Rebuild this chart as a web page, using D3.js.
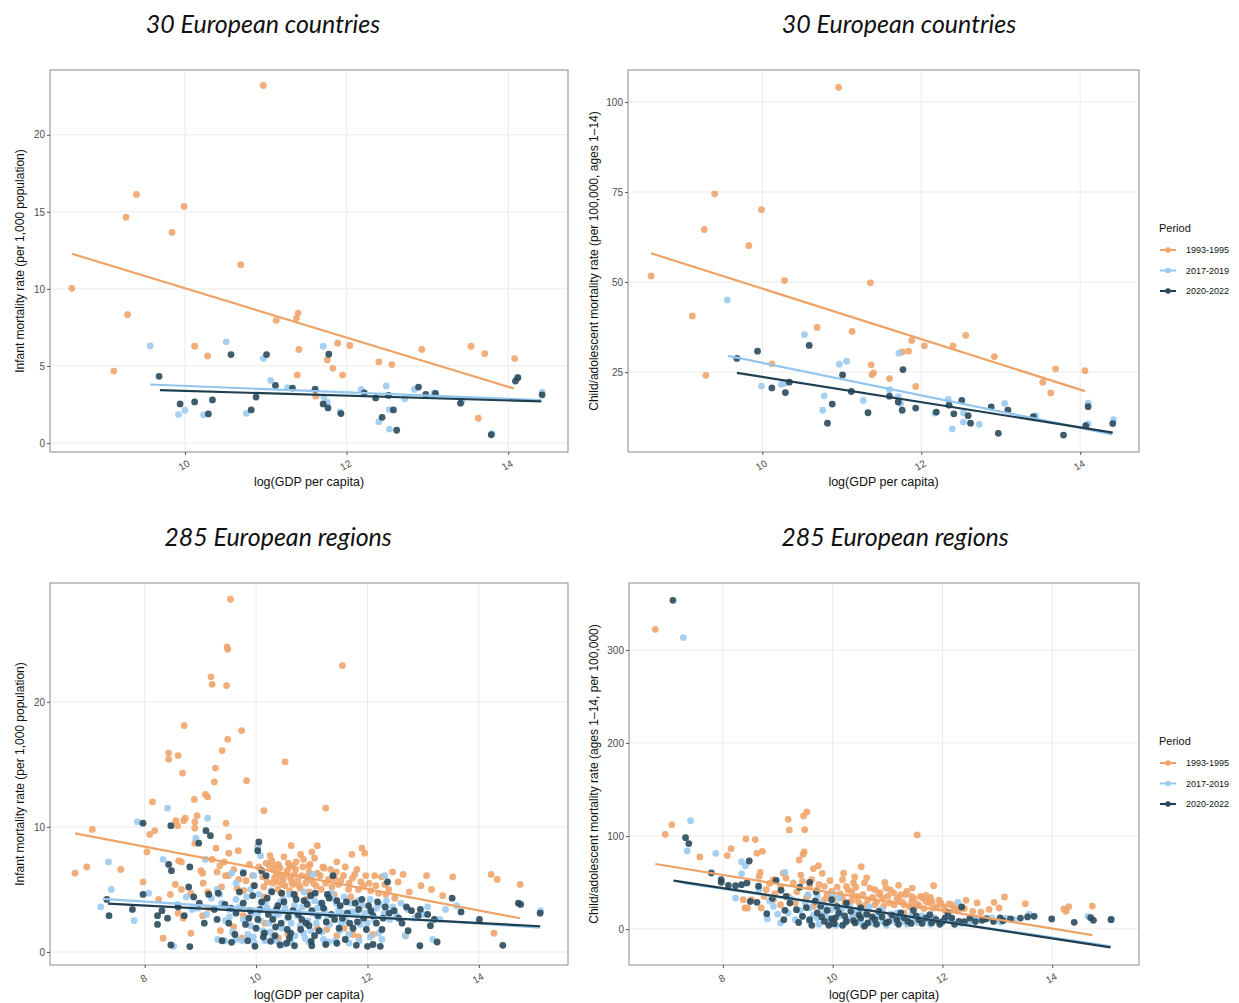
<!DOCTYPE html>
<html>
<head>
<meta charset="utf-8">
<script src="https://cdn.jsdelivr.net/npm/d3@7"></script>
<style>
  body { margin: 0; background: #fff; }
  svg { display: block; }
</style>
</head>
<body>
<div id="chart"></div>
<script>
/* DATA */
const periods = ["1993-1995", "2017-2019", "2020-2022"];
const pointColors = ["#f0a56b", "#9ccbef", "#2a4a5c"];
const lineColors = ["#eea266", "#92c6ee", "#1f3e50"];

// top left: infant mortality, countries  [logGDP, rate]
const tlOrange = [[8.60,10.04],[9.12,4.67],[9.27,14.65],[9.29,8.33],[9.40,16.13],[9.84,13.67],[9.99,15.35],[10.12,6.28],[10.28,5.65],[10.69,11.57],[10.97,23.2],[11.13,7.96],[11.38,8.09],[11.40,8.43],[11.41,6.07],[11.39,4.41],[11.62,3.04],[11.76,5.39],[11.83,4.85],[11.89,6.48],[11.95,4.41],[12.04,6.33],[12.40,5.26],[12.56,5.09],[12.93,6.07],[13.54,6.28],[13.63,1.61],[13.71,5.80],[14.08,5.48]];
const tlLight = [[9.57,6.30],[9.92,1.85],[10.00,2.13],[10.23,1.83],[10.51,6.57],[10.76,1.93],[10.97,5.48],[11.06,4.07],[11.27,3.59],[11.61,3.52],[11.71,6.28],[11.72,3.0],[11.76,2.65],[11.92,2.02],[12.18,3.48],[12.40,1.39],[12.49,3.70],[12.53,2.17],[12.53,0.91],[12.72,2.87],[12.84,3.48],[13.08,3.22],[13.43,2.72],[13.80,0.61],[14.11,4.24],[14.42,3.30]];
const tlDark = [[9.68,4.33],[9.94,2.54],[10.12,2.67],[10.29,1.89],[10.34,2.80],[10.57,5.74],[10.82,2.15],[10.88,2.98],[11.01,5.74],[11.12,3.74],[11.33,3.57],[11.61,3.48],[11.71,2.54],[11.77,2.28],[11.78,5.76],[11.93,1.91],[12.22,3.26],[12.36,2.93],[12.44,1.67],[12.52,3.09],[12.58,2.15],[12.62,0.83],[12.89,3.63],[12.98,3.15],[13.10,3.22],[13.41,2.59],[13.79,0.54],[14.09,4.02],[14.12,4.24],[14.42,3.13]];
const tlFits = [[8.60,12.28,14.07,3.54],[9.57,3.80,14.41,2.78],[9.69,3.43,14.41,2.70]];

// top right: child/adolescent mortality, countries
const trOrange = [[8.60,51.7],[9.12,40.6],[9.27,64.6],[9.29,24.1],[9.40,74.5],[9.83,60.1],[9.99,70.1],[10.12,27.3],[10.28,50.4],[10.69,37.4],[10.96,104.1],[11.13,36.3],[11.36,49.8],[11.37,27.0],[11.38,24.3],[11.40,24.8],[11.60,23.2],[11.76,30.6],[11.84,30.8],[11.88,33.8],[11.93,21.0],[12.04,32.3],[12.40,32.3],[12.56,35.2],[12.92,29.3],[13.53,22.2],[13.63,19.2],[13.69,25.9],[14.06,25.4]];
const trLight = [[9.56,45.0],[9.99,21.1],[10.24,21.6],[10.28,21.9],[10.53,35.4],[10.76,14.4],[10.78,18.4],[10.97,27.2],[11.06,28.0],[11.27,17.1],[11.60,20.1],[11.72,30.2],[11.71,18.2],[11.74,16.2],[12.17,13.6],[12.34,17.4],[12.39,9.2],[12.53,11.1],[12.53,13.7],[12.73,10.5],[13.05,16.3],[13.44,12.9],[14.10,16.4],[14.10,10.6],[14.42,11.8]];
const trDark = [[9.68,28.8],[9.94,30.8],[10.12,20.6],[10.29,19.3],[10.34,22.2],[10.59,32.4],[10.82,10.8],[10.88,16.1],[11.01,24.2],[11.12,19.6],[11.33,13.7],[11.60,18.3],[11.71,16.7],[11.76,14.4],[11.77,25.7],[11.93,15.0],[12.19,13.9],[12.35,15.8],[12.41,13.4],[12.51,17.1],[12.59,12.9],[12.62,10.8],[12.88,15.3],[12.97,8.0],[13.09,14.4],[13.41,12.6],[13.79,7.5],[14.07,10.1],[14.10,15.4],[14.41,10.7]];
const trFits = [[8.60,58.0,14.06,19.7],[9.57,29.5,14.40,7.7],[9.68,24.8,14.41,8.2]];

// bottom left: infant mortality, regions
const blOrange = [[9.54,28.2],[9.48,24.4],[9.49,24.2],[11.55,22.9],[9.19,22.0],[9.21,21.4],[9.47,21.3],[8.71,18.1],[9.74,17.7],[9.49,17.0],[9.39,16.1],[8.43,15.9],[8.43,15.4],[8.60,15.7],[10.52,15.2],[9.27,14.7],[8.68,14.3],[9.25,13.6],[9.83,13.7],[9.09,12.6],[9.13,12.4],[8.89,12.2],[8.14,12.0],[10.14,11.3],[11.25,11.5],[8.94,10.9],[8.73,10.7],[8.70,10.5],[8.56,10.5],[8.90,10.4],[9.46,10.3],[8.59,10.1],[7.06,9.8],[8.90,9.9],[8.18,9.7],[8.09,9.4],[9.51,9.2],[8.90,8.7],[10.63,8.5],[11.10,8.5],[10.03,8.5],[9.28,8.3],[11.90,8.3],[8.04,8.0],[11.00,8.0],[11.72,7.8],[9.51,7.9],[9.68,8.1],[8.61,7.3],[8.66,7.2],[9.21,7.4],[9.43,7.2],[10.85,7.4],[10.72,7.2],[9.35,6.9],[9.01,6.5],[10.18,7.1],[10.28,7.3],[10.43,6.7],[6.96,6.8],[7.57,6.6],[6.75,6.3],[7.97,5.6],[9.04,6.3],[9.05,5.5],[9.13,4.8],[8.46,4.6],[8.55,5.4],[8.83,4.7],[8.66,5.0],[9.45,6.1],[9.50,6.1],[9.69,5.8],[9.82,5.7],[9.94,6.1],[9.78,4.9],[10.14,5.2],[10.30,6.6],[10.36,6.3],[10.43,6.1],[10.49,5.8],[10.56,6.5],[10.62,5.9],[10.69,6.2],[10.75,5.7],[10.82,6.1],[10.89,5.5],[10.30,5.5],[10.39,5.0],[10.52,5.3],[10.66,5.4],[10.79,5.1],[10.98,5.8],[11.08,5.3],[11.15,6.1],[11.25,5.5],[11.34,6.6],[11.41,5.9],[11.48,5.4],[11.57,6.1],[11.67,5.5],[11.77,6.2],[11.84,5.0],[11.93,5.3],[12.03,5.5],[12.13,6.1],[12.20,4.7],[12.31,5.4],[12.45,6.4],[12.49,4.3],[12.64,6.2],[12.96,5.3],[13.06,6.1],[13.15,5.0],[13.53,6.0],[14.22,6.2],[14.33,5.8],[14.74,5.4],[14.27,1.5],[8.33,1.1],[8.83,1.5],[8.69,2.7],[9.36,1.7],[9.74,1.1],[10.57,1.4],[11.27,1.8],[11.74,1.4],[11.84,1.2],[11.58,1.9],[12.09,1.4],[12.68,1.3],[9.04,2.9],[9.77,2.9],[10.16,2.3],[10.82,2.3],[12.33,4.6],[10.35,6.9],[10.60,6.8],[10.95,6.4],[11.20,6.8],
  [10.05,6.8],[10.12,6.0],[10.20,5.6],[10.24,6.9],[10.33,5.9],[10.40,7.0],[10.47,5.4],[10.53,6.2],[10.58,7.1],[10.64,5.6],[10.71,6.6],[10.77,5.3],[10.84,6.8],[10.91,6.0],[10.97,7.0],[11.03,5.5],[11.10,6.3],[11.17,5.0],[11.22,6.7],[11.30,5.8],[11.36,5.2],[11.44,6.4],[11.52,5.7],[11.60,6.8],[11.66,5.0],[11.73,5.9],[11.81,6.6],[11.88,5.6],[11.97,6.1],[12.06,4.9],[12.15,5.3],[12.25,6.0],[12.38,5.0],[12.55,5.6],[12.75,4.8],[13.35,4.5],[9.30,6.4],[9.38,5.2],[9.60,6.6],[9.66,5.1],[9.88,7.0],[9.95,5.3],[10.45,4.7],[10.70,4.6],[10.95,4.8],[11.40,4.6],[10.25,7.7],[10.50,7.6],[10.80,7.8],[11.05,7.5],[11.45,7.2],[11.95,7.9],[10.60,4.9],[10.15,4.4],[10.90,4.2],[11.70,4.4],[8.25,4.2],[8.60,3.1],[9.15,3.5],[9.60,2.0],[10.40,1.1],[11.10,1.9],[11.45,1.3],[10.95,6.9],[10.38,5.6],[10.65,6.9]];
const blLight = [[8.41,11.5],[7.87,10.4],[9.13,10.7],[8.92,9.1],[7.35,7.2],[7.40,5.0],[7.21,3.6],[7.81,2.5],[8.07,4.7],[8.33,7.4],[9.09,7.4],[10.03,8.4],[10.08,7.7],[9.96,6.1],[9.77,6.4],[9.30,5.0],[9.56,6.3],[10.10,3.9],[12.30,3.1],[12.31,6.1],[12.34,4.1],[13.08,3.6],[13.40,3.4],[15.11,3.3],[12.68,1.3],[13.17,1.0],[12.26,1.0],[9.31,1.0],[9.44,0.9],[9.64,1.0],[9.97,0.7],[10.16,0.9],[10.36,0.9],[10.62,0.8],[10.95,0.8],[11.21,1.0],[11.42,0.9],[11.67,0.7],[8.52,0.45],[9.38,3.9],[9.51,3.4],[9.64,4.2],[9.77,2.6],[9.90,2.1],[10.03,3.1],[10.16,3.9],[10.23,2.3],[10.36,3.4],[10.49,4.2],[10.56,2.7],[10.69,3.7],[10.79,2.1],[10.89,4.1],[11.02,3.1],[11.08,2.3],[11.15,3.9],[11.28,2.9],[11.38,4.3],[11.48,3.3],[11.61,2.5],[11.70,3.9],[11.80,3.0],[11.90,3.7],[12.00,2.3],[12.07,3.1],[12.16,3.5],[12.52,2.9],[12.72,3.4],[9.11,3.0],[8.85,3.4],[8.59,3.8],[9.64,5.5],[11.02,6.2],[9.90,5.0],[10.40,3.0],[10.75,3.2],[11.10,3.5],[11.55,3.1],[10.25,1.6],[10.85,1.5],[11.50,1.7],[9.85,1.4],
  [9.52,2.8],[9.58,1.6],[9.70,3.6],[9.75,0.9],[9.83,4.4],[9.92,3.0],[9.95,1.2],[10.05,4.6],[10.08,2.5],[10.12,1.7],[10.20,3.5],[10.27,4.9],[10.30,1.2],[10.33,2.9],[10.43,4.0],[10.47,1.9],[10.52,3.5],[10.60,4.6],[10.63,2.3],[10.70,1.3],[10.74,2.9],[10.83,3.6],[10.86,4.8],[10.93,2.5],[10.98,1.7],[11.05,4.1],[11.12,2.8],[11.18,1.6],[11.23,3.4],[11.32,2.2],[11.35,4.7],[11.44,3.9],[11.53,2.3],[11.58,4.4],[11.66,1.4],[11.72,3.2],[11.83,4.1],[11.87,2.2],[11.95,3.1],[12.05,4.2],[12.12,2.6],[12.20,1.5],[12.22,3.8],[12.40,2.6],[12.45,3.6],[12.60,3.9],[12.85,2.7],[13.00,3.0],[13.30,2.6],[13.60,3.7],[9.20,4.3],[9.45,2.5],[8.95,3.5],[8.75,4.4],[9.35,4.6],[10.88,1.1],[11.30,0.8],[10.50,0.6],[11.85,0.9],[12.05,1.2]];
const blDark = [[7.97,10.3],[8.47,10.1],[8.97,8.7],[9.10,9.7],[9.18,9.3],[10.05,8.8],[10.03,8.1],[8.43,7.0],[8.48,6.5],[8.81,6.8],[8.79,5.2],[7.97,4.6],[7.36,2.9],[7.78,3.4],[7.32,4.2],[8.23,2.9],[8.23,2.2],[8.31,3.3],[8.41,2.7],[8.47,0.56],[8.81,0.43],[9.32,4.7],[9.07,2.3],[9.77,6.3],[9.97,5.3],[10.10,6.5],[10.18,6.1],[11.38,6.1],[12.36,5.6],[13.52,4.3],[13.68,3.2],[14.01,2.6],[14.71,3.9],[14.75,3.8],[15.10,3.1],[14.43,0.53],[12.94,0.5],[13.25,0.8],[13.13,2.1],[12.73,1.7],[12.91,2.9],[13.08,3.0],[12.00,0.45],[12.23,0.45],[11.80,0.53],[11.25,0.6],[10.99,0.85],[10.69,0.5],[10.43,0.56],[10.26,0.85],[9.98,0.45],[9.56,0.77],[9.39,0.9],[9.51,2.3],[9.64,3.1],[9.77,3.9],[9.87,2.7],[10.00,1.9],[10.07,3.4],[10.20,4.3],[10.30,2.6],[10.39,3.7],[10.46,4.7],[10.56,1.8],[10.66,3.3],[10.72,4.2],[10.82,2.6],[10.92,3.8],[10.98,4.5],[11.11,2.9],[11.21,3.5],[11.31,4.3],[11.41,2.6],[11.51,3.7],[11.64,3.1],[11.74,1.9],[11.84,3.4],[11.93,2.7],[12.06,3.3],[12.16,2.3],[12.39,3.1],[12.56,2.7],[12.79,3.3],[12.26,1.8],[9.25,3.4],[8.98,3.9],[8.71,2.9],[9.44,3.8],[10.13,1.2],[10.60,1.1],[11.05,1.3],[11.60,1.0],[10.35,2.0],[10.95,2.1],
  [9.55,3.5],[9.62,1.4],[9.70,4.8],[9.81,2.2],[9.90,3.3],[9.94,4.5],[10.03,2.6],[10.10,4.0],[10.15,1.5],[10.22,3.0],[10.28,4.8],[10.34,1.3],[10.37,3.4],[10.45,2.3],[10.50,4.0],[10.58,2.8],[10.62,1.5],[10.68,4.6],[10.76,3.0],[10.80,1.8],[10.86,4.1],[10.90,2.3],[11.00,3.3],[11.06,4.7],[11.13,1.7],[11.18,3.9],[11.26,2.4],[11.28,4.6],[11.35,3.0],[11.45,4.1],[11.49,1.9],[11.55,2.7],[11.62,4.0],[11.68,2.3],[11.78,3.9],[11.82,2.4],[11.90,4.2],[11.98,1.8],[12.02,3.7],[12.10,2.9],[12.18,4.0],[12.28,2.7],[12.32,3.6],[12.48,3.3],[12.62,2.3],[12.70,3.6],[12.95,3.4],[13.20,2.6],[9.30,2.6],[9.15,4.6],[8.88,4.4],[8.60,3.6],[10.55,0.7],[11.45,0.7],[12.10,0.6],[11.00,0.5],[9.85,0.9]];
const blFits = [[6.75,9.48,14.74,2.70],[7.25,4.25,15.10,1.95],[7.34,3.87,15.10,2.06]];

// bottom right: child/adolescent mortality, regions
const brOrange = [[6.77,322.2],[6.95,101.8],[7.07,112.2],[7.58,77.4],[8.08,78.9],[8.15,86.4],[8.42,96.8],[8.59,96.1],[8.62,81.4],[8.72,83.5],[9.19,117.9],[9.21,106.5],[9.47,121.5],[9.53,125.8],[9.49,106.8],[9.48,82.8],[9.46,80.3],[9.39,74.2],[9.74,68.1],[9.81,59.9],[10.52,67.0],[11.54,101.1],[11.84,46.6],[13.51,27.2],[13.13,34.4],[12.94,28.7],[14.21,21.5],[14.30,24.0],[14.25,19.0],[14.73,24.7],[12.63,28.0],[12.43,30.8],[13.03,22.6],[8.40,22.6],[8.45,22.6],[8.70,22.6],[8.37,31.5],[8.52,31.5],[8.68,60.9],[8.66,56.6],[8.92,53.0],[9.15,54.8],[9.28,49.5],[9.45,51.3],[9.58,45.9],[9.72,42.3],[9.85,45.9],[9.98,40.5],[10.18,53.0],[10.25,45.9],[10.38,49.5],[10.58,49.5],[10.77,42.3],[10.97,44.1],[11.11,38.7],[11.24,36.9],[11.44,35.1],[11.64,33.3],[11.81,29.7],[11.97,28.0],[12.17,26.2],[12.30,20.8],[8.79,42.3],[8.92,31.5],[9.05,26.2],[9.19,35.1],[9.32,28.0],[9.52,33.3],[9.65,24.4],[9.85,31.5],[10.05,26.2],[10.18,33.3],[10.31,28.0],[10.44,35.1],[10.51,24.4],[10.64,31.5],[10.77,26.2],[10.91,33.3],[11.04,28.0],[11.17,31.5],[11.30,26.2],[11.44,29.7],[11.57,25.1],[11.70,29.7],[11.83,22.6],[12.03,23.7],[12.20,20.8],[10.64,15.4],[11.30,17.2],[10.35,40.0],[10.85,37.0],[11.35,40.5],[11.70,36.0],
  [9.35,40],[9.42,58],[9.55,36],[9.62,53],[9.70,30],[9.75,48],[9.90,37],[9.95,52],[10.02,33],[10.08,45],[10.14,38],[10.22,27],[10.28,42],[10.35,31],[10.42,45],[10.47,29],[10.55,37],[10.60,26],[10.68,44],[10.73,34],[10.80,29],[10.86,39],[10.93,25],[11.00,35],[11.05,42],[11.12,26],[11.20,34],[11.27,29],[11.33,37],[11.40,24],[11.48,33],[11.53,27],[11.60,35],[11.66,22],[11.75,28],[11.78,34],[11.90,24],[11.94,31],[12.05,20],[12.12,27],[12.25,23],[12.40,22],[12.55,19],[12.70,18],[12.85,21],[9.05,45],[8.95,38],[8.85,49],[8.75,35],[10.40,56],[10.62,55],[10.95,50],[11.20,47],[11.45,44],[10.20,60],[9.10,60],[9.65,65]];
const brLight = [[7.28,313.3],[7.41,116.5],[7.35,83.9],[7.87,81.4],[8.34,72.4],[8.41,68.1],[8.34,59.5],[8.23,33.3],[9.13,60.9],[8.81,10.8],[12.28,29.0],[13.58,16.1],[8.66,42.3],[8.92,24.4],[9.19,17.2],[9.32,10.0],[9.45,13.6],[9.58,8.2],[9.72,11.8],[9.85,17.2],[9.98,8.2],[10.11,13.6],[10.25,10.0],[10.38,15.4],[10.51,8.2],[10.71,11.8],[10.91,8.2],[11.11,11.8],[11.30,8.2],[11.50,11.8],[11.70,10.0],[11.90,8.2],[12.10,10.0],[12.50,8.2],[12.76,10.0],[9.72,35.1],[10.11,33.3],[9.58,22.6],[9.78,28.0],[9.98,20.8],[10.18,22.6],[10.51,20.8],[10.91,19.0],[11.17,17.2],[11.44,15.4],[13.16,11.8],[14.65,13.6],[15.08,10.8],[9.05,6.5],[13.06,7.2],
  [9.40,20],[9.50,28],[9.65,15],[9.75,5],[9.85,24],[9.92,12],[10.02,26],[10.06,4],[10.15,18],[10.22,6],[10.30,24],[10.35,12],[10.45,18],[10.55,4],[10.60,15],[10.67,24],[10.75,6],[10.82,14],[10.88,21],[10.98,4],[11.05,16],[11.15,7],[11.22,13],[11.35,5],[11.40,11],[11.55,7],[11.62,14],[11.78,5],[11.85,12],[11.98,6],[12.15,12],[12.35,6],[12.60,12],[12.90,12],[13.30,10],[8.85,30],[9.00,16],[9.25,32],[9.55,37],[10.00,38]];
const brDark = [[7.09,353.4],[7.32,98.2],[7.38,91.8],[7.79,60.2],[7.97,53.0],[7.97,50.2],[8.23,46.6],[8.34,47.7],[8.44,49.5],[8.48,73.1],[8.50,29.7],[8.62,28.7],[8.80,16.5],[8.97,52.3],[9.06,41.6],[9.11,10.0],[9.13,20.1],[9.34,20.8],[9.58,50.2],[12.35,23.7],[13.99,10.8],[14.40,7.2],[14.70,12.2],[14.75,9.3],[15.07,10.0],[13.67,13.6],[13.42,11.8],[13.24,10.8],[12.93,8.2],[12.72,9.3],[12.50,11.8],[9.45,13.6],[9.58,10.0],[9.72,17.2],[9.85,8.2],[9.98,10.8],[10.03,5.7],[10.11,17.2],[10.25,8.2],[10.41,6.5],[10.51,11.8],[10.64,6.5],[10.77,10.0],[10.97,6.5],[11.17,10.0],[11.37,8.2],[11.57,10.0],[11.80,6.5],[12.00,8.2],[12.17,11.8],[12.30,8.2],[9.98,31.5],[10.25,28.0],[9.78,24.4],[10.51,22.6],[10.84,19.0],[11.24,17.2],[11.47,20.1],[11.77,15.4],[12.10,17.2],[9.22,28.0],
  [9.38,7],[9.52,23],[9.62,4],[9.68,30],[9.80,13],[9.90,20],[9.93,4],[10.05,12],[10.08,24],[10.18,4],[10.22,14],[10.33,19],[10.38,9],[10.48,15],[10.58,3],[10.62,16],[10.72,13],[10.80,5],[10.90,13],[11.02,8],[11.08,15],[11.20,5],[11.30,12],[11.43,6],[11.52,14],[11.63,6],[11.70,12],[11.88,10],[11.95,5],[12.05,12],[12.22,5],[12.40,8],[12.60,8],[12.80,11],[13.05,12],[13.10,9],[13.55,13],[9.15,35],[8.90,33],[9.40,45],[9.70,40],[8.65,46],[8.10,47]];
const brFits = [[6.77,69.9,14.73,-6.5],[7.28,49.5,15.07,-18.6],[7.10,52.0,15.06,-19.7]];

/* LAYOUT */
const width = 1239, height = 1003;
const panels = [
  { box: [50, 70, 568, 452], xDom: [8.33, 14.74], yDom: [-0.58, 24.2], xTicks: [10, 12, 14], yTicks: [0, 5, 10, 15, 20],
    series: [tlOrange, tlLight, tlDark], fits: tlFits, title: "30 European countries", titleX: 263, titleY: 33,
    yTitle: "Infant mortality rate (per 1,000 population)", yTitleX: 24, legendY: null },
  { box: [628, 70, 1139, 452], xDom: [8.31, 14.74], yDom: [2.8, 108.9], xTicks: [10, 12, 14], yTicks: [25, 50, 75, 100],
    series: [trOrange, trLight, trDark], fits: trFits, title: "30 European countries", titleX: 899, titleY: 33,
    yTitle: "Child/adolescent mortality rate (per 100,000, ages 1\u201314)", yTitleX: 598, legendY: 228 },
  { box: [50, 583, 568, 965], xDom: [6.3, 15.6], yDom: [-1.04, 29.5], xTicks: [8, 10, 12, 14], yTicks: [0, 10, 20],
    series: [blOrange, blLight, blDark], fits: blFits, title: "285 European regions", titleX: 278, titleY: 546,
    yTitle: "Infant mortality rate (per 1,000 population)", yTitleX: 24, legendY: null },
  { box: [629, 583, 1139, 965], xDom: [6.29, 15.58], yDom: [-38.7, 372], xTicks: [8, 10, 12, 14], yTicks: [0, 100, 200, 300],
    series: [brOrange, brLight, brDark], fits: brFits, title: "285 European regions", titleX: 895, titleY: 546,
    yTitle: "Child/adolescent mortality rate (ages 1\u201314, per 100,000)", yTitleX: 598, legendY: 741 }
];

const svg = d3.select("#chart").append("svg")
  .attr("width", width)
  .attr("height", height)
  .style("font-family", "'Liberation Sans', Arial, sans-serif");

panels.forEach(p => drawPanel(p));

function drawPanel(p) {
  const [x0, y0, x1, y1] = p.box;
  const xScale = d3.scaleLinear().domain(p.xDom).range([x0, x1]);
  const yScale = d3.scaleLinear().domain(p.yDom).range([y1, y0]);
  const g = svg.append("g");

  // title
  svg.append("text")
    .attr("x", p.titleX).attr("y", p.titleY)
    .attr("text-anchor", "middle")
    .style("font-family", "Lato, 'Open Sans', sans-serif")
    .style("font-style", "italic")
    .style("font-size", "25px")
    .attr("fill", "#111")
    .text(p.title);

  // grid
  g.selectAll("line.gx").data(p.xTicks).join("line")
    .attr("class", "gx")
    .attr("x1", d => xScale(d)).attr("x2", d => xScale(d))
    .attr("y1", y0).attr("y2", y1)
    .attr("stroke", "#ebebeb").attr("stroke-width", 1);
  g.selectAll("line.gy").data(p.yTicks).join("line")
    .attr("class", "gy")
    .attr("x1", x0).attr("x2", x1)
    .attr("y1", d => yScale(d)).attr("y2", d => yScale(d))
    .attr("stroke", "#ebebeb").attr("stroke-width", 1);

  // points, one layer per period
  p.series.forEach((pts, i) => {
    g.append("g").selectAll("circle").data(pts).join("circle")
      .attr("cx", d => xScale(d[0]))
      .attr("cy", d => yScale(d[1]))
      .attr("r", 3.4)
      .attr("fill", pointColors[i])
      .attr("fill-opacity", 0.9);
  });

  // fitted lines
  const lineGen = d3.line().x(d => xScale(d[0])).y(d => yScale(d[1]));
  p.fits.forEach((f, i) => {
    g.append("path")
      .attr("d", lineGen([[f[0], f[1]], [f[2], f[3]]]))
      .attr("fill", "none")
      .attr("stroke", lineColors[i])
      .attr("stroke-width", 2.2);
  });

  // border
  g.append("rect")
    .attr("x", x0).attr("y", y0)
    .attr("width", x1 - x0).attr("height", y1 - y0)
    .attr("fill", "none").attr("stroke", "#8a8a8a").attr("stroke-width", 1);

  // y axis
  const yAxis = d3.axisLeft(yScale).tickValues(p.yTicks).tickSize(3).tickPadding(2);
  const yg = svg.append("g").attr("transform", `translate(${x0},0)`).call(yAxis);
  yg.select(".domain").remove();
  yg.selectAll(".tick line").attr("stroke", "#555");
  yg.selectAll(".tick text").attr("fill", "#4d4d4d").style("font-size", "10px");

  // x axis with tilted labels
  const xAxis = d3.axisBottom(xScale).tickValues(p.xTicks).tickSize(3).tickFormat(d3.format("d"));
  const xg = svg.append("g").attr("transform", `translate(0,${y1})`).call(xAxis);
  xg.select(".domain").remove();
  xg.selectAll(".tick line").attr("stroke", "#555");
  xg.selectAll(".tick text")
    .attr("fill", "#4d4d4d").style("font-size", "10px")
    .attr("y", 0).attr("dy", 0)
    .attr("text-anchor", "middle")
    .attr("dominant-baseline", "middle")
    .attr("transform", "translate(-1,14) rotate(-30)");

  // axis titles
  svg.append("text")
    .attr("x", (x0 + x1) / 2).attr("y", y1 + 34)
    .attr("text-anchor", "middle")
    .style("font-size", "12.5px")
    .attr("fill", "#111")
    .text("log(GDP per capita)");
  svg.append("text")
    .attr("transform", `translate(${p.yTitleX},${(y0 + y1) / 2}) rotate(-90)`)
    .attr("text-anchor", "middle")
    .style("font-size", "12px")
    .attr("fill", "#111")
    .text(p.yTitle);

  if (p.legendY !== null) drawLegend(p.legendY);
}

function drawLegend(top) {
  const lg = svg.append("g").attr("transform", `translate(1159,${top})`);
  lg.append("text").attr("x", 0).attr("y", 4)
    .style("font-size", "11px").attr("fill", "#111").text("Period");
  periods.forEach((label, i) => {
    const yy = 22 + i * 20.5;
    lg.append("line").attr("x1", 1).attr("x2", 17).attr("y1", yy).attr("y2", yy)
      .attr("stroke", lineColors[i]).attr("stroke-width", 2);
    lg.append("circle").attr("cx", 9).attr("cy", yy).attr("r", 2.8).attr("fill", pointColors[i]);
    lg.append("text").attr("x", 27).attr("y", yy + 3)
      .style("font-size", "9px").attr("fill", "#111").text(label);
  });
}
</script>
</body>
</html>
